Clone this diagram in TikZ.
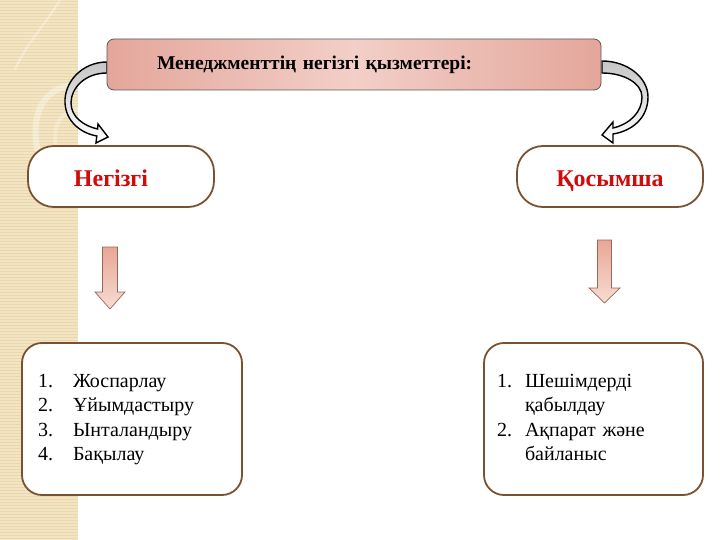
\documentclass[tikz,border=0pt]{standalone}
\usepackage{fontspec}
\setmainfont{Liberation Serif}
\usepackage{xcolor}
\usepackage{tikz}
\usetikzlibrary{positioning,calc}

\definecolor{framebrown}{HTML}{7B5231}
\definecolor{titlerose}{HTML}{E4A69B}
\definecolor{titlelight}{HTML}{F2CFC8}
\definecolor{headred}{HTML}{D10A0A}
\definecolor{arrowrose}{HTML}{E8A696}
\definecolor{arrowlight}{HTML}{F7DCD2}
\definecolor{arrowedge}{HTML}{9A6656}
\definecolor{stripbeige}{HTML}{F3E5C4}
\definecolor{stripline}{HTML}{E9D7AE}

\begin{document}
\begin{tikzpicture}[x=1pt, y=-1pt]
  % Define styles
  \tikzstyle{titlebox}=[rectangle, rounded corners=7pt, draw=black!65, line width=0.8pt, left color=titlerose, right color=titlerose, middle color=titlelight, font=\fontsize{19.5}{22}\selectfont\bfseries]
  \tikzstyle{capsule}=[rectangle, rounded corners=26pt, draw=framebrown, line width=1.8pt, fill=white, text=headred, text height=21pt, text depth=0pt, font=\fontsize{24}{28}\selectfont\bfseries]
  \tikzstyle{listbox}=[rectangle, rounded corners=20pt, draw=framebrown, line width=1.8pt, fill=white, align=left, font=\fontsize{20}{24.5}\selectfont]
  \tikzstyle{bentarrow}=[draw=black, line width=1.4pt, top color=gray!45, bottom color=white]
  \tikzstyle{downarrow}=[draw=arrowedge, line width=0.7pt, top color=arrowrose, bottom color=arrowlight]

  \useasboundingbox (0,0) rectangle (720,540);

  % Background strip
  \fill[stripbeige] (0,0) rectangle (78,540);
  \foreach \y in {1.5,4.5,...,540} \draw[stripline, line width=0.8pt] (0,\y) -- (78,\y);
  \draw[white, opacity=0.35, line width=2pt] (60,0) .. controls (45,25) and (25,45) .. (15,70);
  \draw[white, opacity=0.35, line width=6pt] (78,85) .. controls (40,85) and (28,120) .. (40,160);
  \draw[white, opacity=0.25, line width=4pt] (78,110) .. controls (55,112) and (50,135) .. (60,160);

  % Bent arrows
  \path[bentarrow] (107,62) .. controls (82,62) and (64,82) .. (65,103)
    .. controls (66,121) and (80,133) .. (96.8,136) -- (96,143) -- (108,137) -- (98,124) -- (97.6,129)
    .. controls (84,126) and (71,117) .. (71,103) .. controls (71,88) and (85,73) .. (107,73) -- cycle;
  \path[bentarrow] (602,61) .. controls (628,61) and (648,78) .. (648,97)
    .. controls (648,118) and (632,131) .. (613,134) -- (613,143) -- (602,135) -- (613,122) -- (613,128)
    .. controls (630,124) and (642,112) .. (642,97) .. controls (642,84) and (625,73) .. (602,73) -- cycle;

  % Nodes
  \node[titlebox, minimum height=51pt, text width=394pt, inner xsep=50pt, align=left] (title) at (354,64.5) {Менеджменттің негізгі қызметтері:};
  \node[capsule, minimum width=186pt, minimum height=61pt] (main)  at (121,176.5) {\hspace*{-20pt}Негізгі};
  \node[capsule, minimum width=186pt, minimum height=61pt] (extra) at (610,176.5) {Қосымша};

  \node[listbox, minimum width=220pt, minimum height=152pt, text width=188pt, inner xsep=16pt] (mainlist) at (132,419) {%
    \begin{tabular}{@{}p{35pt}@{}l@{}}
      1. & Жоспарлау\\
      2. & Ұйымдастыру\\
      3. & Ынталандыру\\
      4. & Бақылау
    \end{tabular}};
  \node[listbox, minimum width=219pt, minimum height=152pt, text width=193pt, inner xsep=13pt] (extralist) at (593.5,419) {%
    \begin{tabular}{@{}p{28pt}@{}l@{}}
      1. & Шешімдерді\\
         & қабылдау\\
      2. & Ақпарат және\\
         & байланыс
    \end{tabular}};

  % Down arrows
  \path[downarrow] (102.5,247) -- (117.5,247) -- (117.5,292) -- (125,292) -- (110,309) -- (95,292) -- (102.5,292) -- cycle;
  \path[downarrow] (597.5,240) -- (611.5,240) -- (611.5,288) -- (620,288) -- (604.5,303) -- (589,288) -- (597.5,288) -- cycle;
\end{tikzpicture}
\end{document}
